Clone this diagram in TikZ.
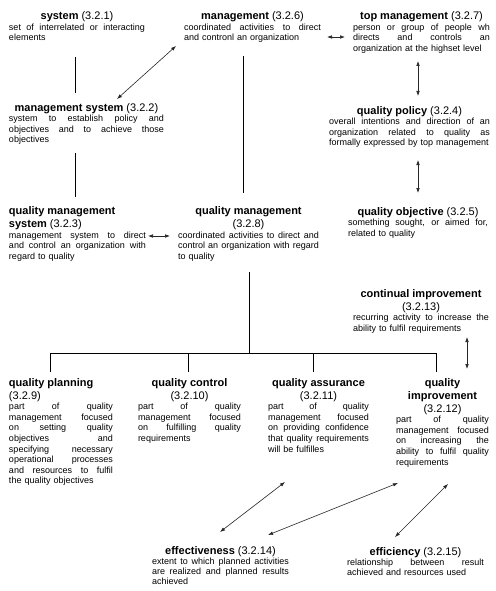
\documentclass[tikz,border=0pt]{standalone}
\usepackage{fontspec}
\setmainfont{Liberation Sans}
\usetikzlibrary{arrows.meta,calc}
\setlength{\parindent}{0pt}
\newcommand\Tl[2][c]{{\fontsize{11}{13}\selectfont\makebox[\linewidth][#1]{#2}\par}}
\newcommand\Jl[1]{\hbox to \linewidth{\spaceskip=2.5pt plus 1fil\xspaceskip=2.5pt plus 1fil\relax #1}\par}
\newcommand\Ll[1]{\leavevmode #1\par}
\tikzset{
  concept/.style={anchor=base west, inner sep=0pt, outer sep=0pt, font=\fontsize{9}{10.6}\selectfont},
  lowconcept/.style={concept, font=\fontsize{9}{10}\selectfont},
  ln/.style={line width=0.8pt, draw=black},
  arr/.style={{Latex[length=5pt,width=3.6pt]}-{Latex[length=5pt,width=3.6pt]}, line width=0.6pt, draw=black!85},
}
\begin{document}
\begin{tikzpicture}[x=1pt,y=-1pt]
\useasboundingbox (0,0) rectangle (495,591);
\fill[white] (0,0) rectangle (495,591);

\node[concept, text width=136pt] (sys) at (9,19.5)
  {\Tl{\textbf{system} (3.2.1)}\Jl{set of interrelated or interacting}\Ll{elements}};
\node[concept, text width=155pt] (msys) at (9,111)
  {\Tl{\textbf{management system} (3.2.2)}\Jl{system to establish policy and}\Jl{objectives and to achieve those}\Ll{objectives}};
\node[concept, text width=137pt] (qms) at (9,214.5)
  {\Tl[l]{\textbf{quality management}}\Tl[l]{\textbf{system} (3.2.3)}\Jl{management system to direct}\Jl{and control an organization with}\Ll{regard to quality}};
\node[concept, text width=141pt] (qm) at (178,214.5)
  {\Tl{\textbf{quality management}}\Tl{(3.2.8)}\Jl{coordinated activities to direct and}\Jl{control an organization with regard}\Ll{to quality}};
\node[concept, text width=137pt] (mgmt) at (184,19.5)
  {\Tl{\textbf{management} (3.2.6)}\Jl{coordinated activities to direct}\Ll{and contronl an organization}};
\node[concept, text width=137pt] (top) at (353,19.5)
  {\Tl{\textbf{top management} (3.2.7)}\Jl{person or group of people wh}\Jl{directs and controls an}\Ll{organization at the highset level}};
\node[concept, text width=161pt] (qpol) at (329,114)
  {\Tl{\textbf{quality policy} (3.2.4)}\Jl{overall intentions and direction of an}\Jl{organization related to quality as}\Ll{formally expressed by top management}};
\node[concept, text width=140pt] (qobj) at (348,215)
  {\Tl{\textbf{quality objective} (3.2.5)}\Jl{something sought, or aimed for,}\Ll{related to quality}};
\node[concept, text width=136pt] (ci) at (353,297)
  {\Tl{\textbf{continual improvement}}\Tl{(3.2.13)}\Jl{recurring activity to increase the}\Ll{ability to fulfil requirements}};
\node[concept, text width=104pt] (qplan) at (9,386)
  {\Tl[l]{\textbf{quality planning}}\Tl[l]{(3.2.9)}\Jl{part of quality}\Jl{management focused}\Jl{on setting quality}\Jl{objectives and}\Jl{specifying necessary}\Jl{operational processes}\Jl{and resources to fulfil}\Ll{the quality objectives}};
\node[concept, text width=103pt] (qc) at (138,386)
  {\Tl{\textbf{quality control}}\Tl{(3.2.10)}\Jl{part of quality}\Jl{management focused}\Jl{on fulfilling quality}\Ll{requirements}};
\node[concept, text width=101pt] (qa) at (268,386)
  {\Tl{\textbf{quality assurance}}\Tl{(3.2.11)}\Jl{part of quality}\Jl{management focused}\Jl{on providing confidence}\Jl{that quality requirements}\Ll{will be fulfilles}};
\node[concept, text width=93pt] (qi) at (396,386)
  {\Tl{\textbf{quality}}\Tl{\textbf{improvement}}\Tl{(3.2.12)}\Jl{part of quality}\Jl{management focused}\Jl{on increasing the}\Jl{ability to fulfil quality}\Ll{requirements}};
\node[lowconcept, text width=137pt] (eff) at (152,554)
  {\Tl{\textbf{effectiveness} (3.2.14)}\Jl{extent to which planned activities}\Jl{are realized and planned results}\Ll{achieved}};
\node[lowconcept, text width=137pt] (effi) at (347,555)
  {\Tl{\textbf{efficiency} (3.2.15)}\Jl{relationship between result}\Ll{achieved and resources used}};

% plain links
\draw[ln] ($(sys.base)+(-2,37.5)$) -- ($(msys.base)+(-11.5,-18)$);
\draw[ln] ($(msys.base)+(-11.5,42)$) -- ($(qms.base)+(-2.5,-17.5)$);
\draw[ln] ($(mgmt.base)+(-9.5,36.5)$) -- ($(qm.base)+(-5.5,-21.5)$);

% tree
\coordinate (j) at ($(qm.base)+(0.5,138.5)$);
\draw[ln] ($(qm.base)+(0.5,57.5)$) -- (j);
\draw[ln] ($(qplan.base)+(-11,-14)$) |- (j);
\draw[ln] ($(qc.base)+(-1.5,-14)$) |- (j);
\draw[ln] ($(qa.base)+(-5.5,-14)$) |- (j);
\draw[ln] ($(qi.base)+(-6.5,-14)$) |- (j);

% double arrows
\draw[arr] ($(msys.base)+(30.5,-12)$) -- ($(mgmt.base)+(-76.5,26.5)$);
\draw[arr] ($(mgmt.base)+(74.5,17.5)$) -- ($(top.base)+(-76.5,17.5)$);
\draw[arr] ($(top.base)+(-3.5,41.5)$) -- ($(qpol.base)+(8.5,-18)$);
\draw[arr] ($(qpol.base)+(8.5,46)$) -- ($(qobj.base)+(0,-22)$);
\draw[arr] ($(qms.base)+(70.5,21.5)$) -- ($(qm.base)+(-78.5,21.5)$);
\draw[arr] ($(ci.base)+(46,40)$) -- ($(qi.base)+(24.5,-17)$);
\draw[arr] ($(eff.base)+(-0.5,-22)$) -- ($(qa.base)+(-33.5,96)$);
\draw[arr] ($(eff.base)+(47.5,-19)$) -- ($(qi.base)+(-44.5,97)$);
\draw[arr] ($(effi.base)+(-20.5,-18)$) -- ($(qi.base)+(5.5,98)$);
\end{tikzpicture}
\end{document}
